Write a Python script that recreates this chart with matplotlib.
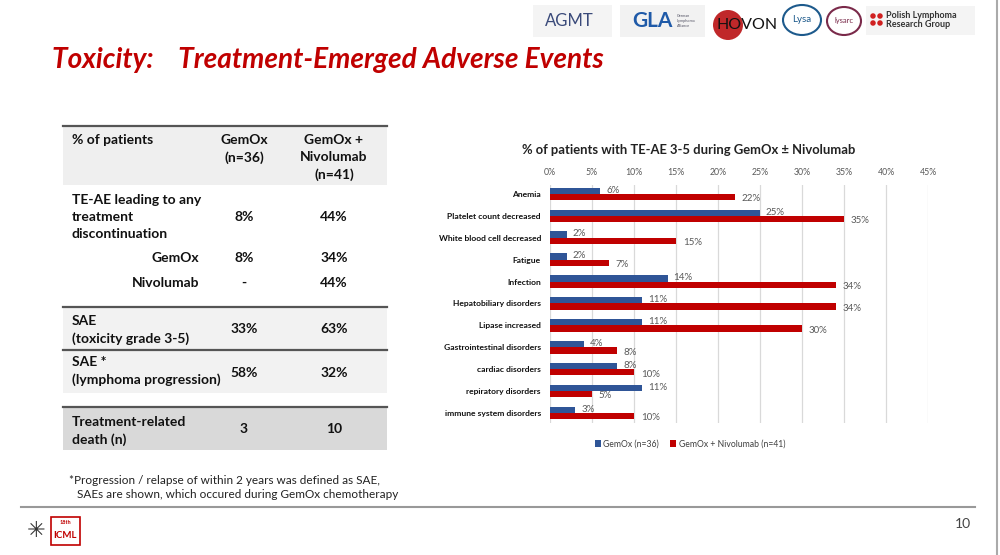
import matplotlib
matplotlib.use("Agg")
import matplotlib.pyplot as plt
from matplotlib.patches import Rectangle, Ellipse

# ---- chart data (% of patients with TE-AE grade 3-5) ----
categories = ["Anemia", "Platelet count decreased", "White blood cell decreased",
              "Fatigue", "Infection", "Hepatobiliary disorders", "Lipase increased",
              "Gastrointestinal disorders", "cardiac disorders", "repiratory disorders",
              "immune system disorders"]
gemox = [6, 25, 2, 2, 14, 11, 11, 4, 8, 11, 3]
gemox_nivo = [22, 35, 15, 7, 34, 34, 30, 8, 10, 5, 10]
series_names = ["GemOx (n=36)", "GemOx + Nivolumab (n=41)"]
xticks = [0, 5, 10, 15, 20, 25, 30, 35, 40, 45]

# ---- table data ----
col_heads = ["GemOx\n(n=36)", "GemOx +\nNivolumab\n(n=41)"]
row_labels = ["TE-AE leading to any\ntreatment\ndiscontinuation", "GemOx", "Nivolumab",
              "SAE\n(toxicity grade 3-5)", "SAE *\n(lymphoma progression)",
              "Treatment-related\ndeath (n)"]
col_gemox = ["8%", "8%", "-", "33%", "58%", "3"]
col_nivo = ["44%", "34%", "44%", "63%", "32%", "10"]

W, H = 1000, 555
FONT = "Lato"
DARKRED = "#c00000"
BLUE = "#2f5597"
RED = "#c00000"

fig = plt.figure(figsize=(10, 5.55), dpi=100)
fig.patch.set_facecolor("white")


def P(x, y):
    return x / W, 1 - y / H


def txt(x, y, s, **kw):
    kw.setdefault("family", FONT)
    fig.text(*P(x, y), s, **kw)


def rect(x0, y0, x1, y1, **kw):
    fig.patches.append(Rectangle(P(x0, y1), (x1 - x0) / W, (y1 - y0) / H,
                                 transform=fig.transFigure, **kw))


def hline(x0, x1, y, **kw):
    fig.add_artist(plt.Line2D([x0 / W, x1 / W], [1 - y / H, 1 - y / H],
                              transform=fig.transFigure, **kw))


# title
txt(52, 60, "Toxicity:    Treatment-Emerged Adverse Events", fontsize=20.2,
    fontweight="bold", style="italic", color=DARKRED, va="center")

# logos (rough text stand-ins)
rect(533, 5, 612, 37, facecolor="#f4f4f4", edgecolor="none")
txt(545, 21, "AGMT", fontsize=12, color="#3a4a7a", va="center")
rect(620, 5, 705, 37, facecolor="#f2f2f2", edgecolor="none")
txt(632, 21, "GLA", fontsize=15, fontweight="bold", color="#1f5aa8", va="center")
txt(677, 21, "German\nLymphoma\nAlliance", fontsize=2.8, color="#556", va="center")
fig.patches.append(Ellipse(P(728, 25), 30 / W, 30 / H, transform=fig.transFigure,
                           facecolor="#c0282a", edgecolor="none"))
txt(716, 25, "HOVON", fontsize=11.5, color="#111", va="center")
fig.patches.append(Ellipse(P(802, 20), 38 / W, 30 / H, transform=fig.transFigure,
                           facecolor="white", edgecolor="#1d5a8c", lw=1.5))
txt(802, 20, "Lysa", fontsize=7, color="#1d5a8c", ha="center", va="center")
fig.patches.append(Ellipse(P(844, 21), 34 / W, 28 / H, transform=fig.transFigure,
                           facecolor="white", edgecolor="#7a2a4a", lw=1.5))
txt(844, 21, "lysarc", fontsize=5.5, color="#7a2a4a", ha="center", va="center")
rect(866, 6, 975, 35, facecolor="#f4f4f4", edgecolor="none")
for dx, dy in [(0, 0), (7, 0), (0, 7), (7, 7)]:
    fig.patches.append(Ellipse(P(873 + dx, 16 + dy), 5.5 / W, 5.5 / H,
                               transform=fig.transFigure, facecolor="#d02020",
                               edgecolor="none"))
txt(886, 20, "Polish Lymphoma\nResearch Group", fontsize=6.5, fontweight="bold",
    color="#333", va="center", linespacing=0.95)

# right border
fig.add_artist(plt.Line2D([997 / W, 997 / W], [0, 1], transform=fig.transFigure,
                          color="#aaaaaa", lw=1.5))

# ---- table ----
TL, TR = 63, 387
C1, C2 = 244, 334
rect(TL, 126, TR, 185, facecolor="#efefef", edgecolor="none")
rect(TL, 307, TR, 393, facecolor="#f2f2f2", edgecolor="none")
rect(TL, 407, TR, 450, facecolor="#d9d9d9", edgecolor="none")
for yy in [126, 307, 350, 407]:
    hline(TL, TR, yy, color="#555555", lw=1.6)

tk = dict(fontsize=10, fontweight="bold", color="#111111", linespacing=1.5)
txt(72, 134, "% of patients", va="top", **tk)
txt(C1, 134, col_heads[0], ha="center", va="top", **tk)
txt(C2, 134, col_heads[1], ha="center", va="top", **tk)

# label x, label y (top), value y (center), label alignment
row_pos = [(72, 194, 217, "left"), (199, 258, 258, "right"), (199, 283, 283, "right"),
           (72, 315, 329, "left"), (72, 356, 373, "left"), (72, 416, 429, "left")]
for lab, g, n, (lx, ly, vy, ha) in zip(row_labels, col_gemox, col_nivo, row_pos):
    if ha == "left":
        txt(lx, ly, lab, ha="left", va="top", **tk)
    else:
        txt(lx, ly, lab, ha="right", va="center", **tk)
    txt(C1, vy, g, ha="center", va="center", **tk)
    txt(C2, vy, n, ha="center", va="center", **tk)

txt(69, 480, "*Progression / relapse of within 2 years was defined as SAE,",
    fontsize=8.5, color="#222222", va="center")
txt(77, 495, "SAEs are shown, which occured during GemOx chemotherapy",
    fontsize=8.5, color="#222222", va="center")

# footer
hline(21, 975, 507, color="#999999", lw=1.5)
txt(963, 524, "10", fontsize=10, color="#444444", ha="center", va="center")
rect(51, 517, 80, 545, facecolor="white", edgecolor=DARKRED, lw=1.2)
txt(65.5, 535, "ICML", fontsize=7, fontweight="bold", color=DARKRED, ha="center",
    va="center")
txt(65.5, 523, "18th", fontsize=4, fontweight="bold", color=DARKRED, ha="center",
    va="center")
txt(36, 531, "\u2733", fontsize=16, color="#333333", ha="center", va="center",
    family="DejaVu Sans")

# ---- bar chart ----
ax = fig.add_axes([550 / W, 1 - 423 / H, (928 - 550) / W, (423 - 185) / H])
ypos = list(range(len(categories)))
bh = 0.29
ax.barh([y - bh / 2 for y in ypos], gemox, height=bh, color=BLUE, label=series_names[0],
        zorder=3)
ax.barh([y + bh / 2 for y in ypos], gemox_nivo, height=bh, color=RED,
        label=series_names[1], zorder=3)
for y, v in zip(ypos, gemox):
    ax.text(v + 0.7, y - bh / 2 - 0.03, f"{v}%", fontsize=7, color="#595959",
            va="center", family=FONT, zorder=4)
for y, v in zip(ypos, gemox_nivo):
    ax.text(v + 0.8, y + bh / 2 + 0.08, f"{v}%", fontsize=7, color="#595959",
            va="center", family=FONT, zorder=4)

ax.set_xlim(0, 45)
ax.set_ylim(10.46, -0.41)
ax.set_xticks(xticks)
ax.set_xticklabels([f"{t}%" for t in xticks], fontsize=6.3, color="#595959",
                   family=FONT)
ax.xaxis.tick_top()
ax.set_yticks(ypos)
ax.set_yticklabels(categories, fontsize=6.1, fontweight="bold", color="#111111",
                   family=FONT)
ax.tick_params(length=0, axis="x", pad=6)
ax.tick_params(length=0, axis="y", pad=6.5)
ax.grid(axis="x", color="#d9d9d9", lw=0.9, zorder=0)
for s in ax.spines.values():
    s.set_visible(False)
ax.set_facecolor("none")

txt(689, 150, "% of patients with TE-AE 3-5 during GemOx \u00b1 Nivolumab", fontsize=9.4,
    fontweight="bold", color="#222222", ha="center", va="center")

fig.legend(*ax.get_legend_handles_labels(), loc="center", bbox_to_anchor=P(690, 444),
           ncol=2, frameon=False, prop={"family": FONT, "size": 6.2}, handlelength=0.7,
           handleheight=0.7, handletextpad=0.3, columnspacing=1.3, labelcolor="#404040")

fig.savefig("out.png", dpi=100)
